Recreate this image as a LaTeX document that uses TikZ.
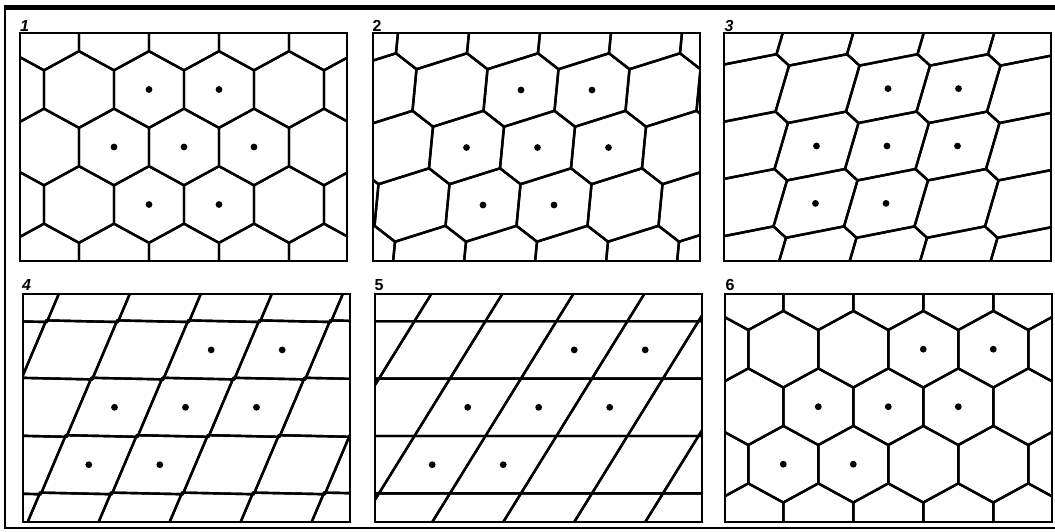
\documentclass[tikz,border=0pt]{standalone}
\usepackage{fontspec}
\setsansfont{Liberation Sans}
% tile parameters (image coordinates, y downwards)
\def\Qhw{163.5}\def\Qhh{114}
\newcommand\QSet[9]{\def\Qa{#1}\def\Qcx{#2}\def\Qcy{#3}\def\QAx{#4}\def\QAy{#5}\def\QBx{#6}\def\QBy{#7}\def\QCx{#8}\def\QCy{#9}}
\newcommand\QPanel[4]{%
  \begin{scope}
    \clip (#1-\Qhw,#2-\Qhh) rectangle (#1+\Qhw,#2+\Qhh);
    \foreach \i in {-6,...,6}{\foreach \j in {-3,...,3}{%
      \pgfmathsetmacro\X{#3+\i*\Qa+\j*\Qcx}%
      \pgfmathsetmacro\Y{#4+\j*\Qcy}%
      \draw[cellline] ({\X+(\QAx)},{\Y+(\QAy)}) -- ({\X+(\QBx)},{\Y+(\QBy)})
        -- ({\X+(\QCx)},{\Y+(\QCy)}) -- ({\X-(\QAx)},{\Y-(\QAy)})
        -- ({\X-(\QBx)},{\Y-(\QBy)}) -- ({\X-(\QCx)},{\Y-(\QCy)}) -- cycle;
    }}
  \end{scope}
  \foreach \u/\v in {0/0,1/0,-1/0,0/1,-1/1,0/-1,1/-1}{%
    \fill ({#3+\u*\Qa+\v*\Qdx},{#4+\v*\Qdy}) circle[radius=3.4pt];
  }
  \draw[frameline] (#1-\Qhw,#2-\Qhh) rectangle (#1+\Qhw,#2+\Qhh);
}
\begin{document}
\begin{tikzpicture}[x=1pt,y=-1pt,
  cellline/.style={line width=2.4pt,line join=round},
  frameline/.style={line width=2pt},
  lab/.style={font=\sffamily\bfseries\fontsize{16}{16}\selectfont,anchor=base west,inner sep=0pt}]
\useasboundingbox (0,0) rectangle (1055,531);
\fill[white] (0,0) rectangle (1055,531);

% panel 1: regular hexagons
\QSet{70}{35}{-57.5}{0}{-38.3}{35}{-19.2}{35}{19.2}\def\Qdx{35}\def\Qdy{-57.5}
\QPanel{183.5}{147}{184}{147}
% panel 2
\QSet{71}{54.5}{-57.5}{17}{-36.7}{37.5}{-20.8}{33.5}{20.8}\def\Qdx{54.5}\def\Qdy{-57.5}
\QPanel{536.5}{147}{537.5}{147.5}
% panel 3
\QSet{70.5}{71.5}{-57.4}{29.5}{-34.4}{42}{-23}{28.5}{23}\def\Qdx{71.5}\def\Qdy{-57.4}
\QPanel{887.5}{146.5}{887}{146}
% panel 4
\QSet{71}{96.7}{-57.4}{48.7}{-27.9}{48}{-29.5}{23}{29.5}\def\Qdx{96.7}\def\Qdy{-57.4}
\QPanel{186}{408}{185.5}{407.3}
% panel 5: parallelograms
\QSet{71}{106.5}{-57.4}{53.25}{-28.7}{53.25}{-28.7}{17.75}{28.7}\def\Qdx{106.5}\def\Qdy{-57.4}
\QPanel{538.5}{408}{538.7}{407.3}
% panel 6: regular hexagons again
\QSet{70}{35}{-57.5}{0}{-38.3}{35}{-19.2}{35}{19.2}\def\Qdx{105}\def\Qdy{-57.5}
\QPanel{888}{407.5}{888.3}{406.7}

% labels
\node[lab,font=\sffamily\bfseries\itshape\fontsize{16}{16}\selectfont] (n1) at (20,31) {1};
\node[lab] (n2) at (372.5,31) {2};
\node[lab,font=\sffamily\bfseries\itshape\fontsize{16}{16}\selectfont] (n3) at (724.5,31) {3};
\node[lab,font=\sffamily\bfseries\itshape\fontsize{16}{16}\selectfont] (n4) at (22,290) {4};
\node[lab] (n5) at (374.5,290) {5};
\node[lab] (n6) at (725.5,290) {6};

% outer border
\fill (4,4.5) rectangle (1055,10);
\draw[line width=2.5pt] (5,9) -- (5,529);
\draw[line width=2.5pt] (3.75,528) -- (1055,528);
\end{tikzpicture}
\end{document}
